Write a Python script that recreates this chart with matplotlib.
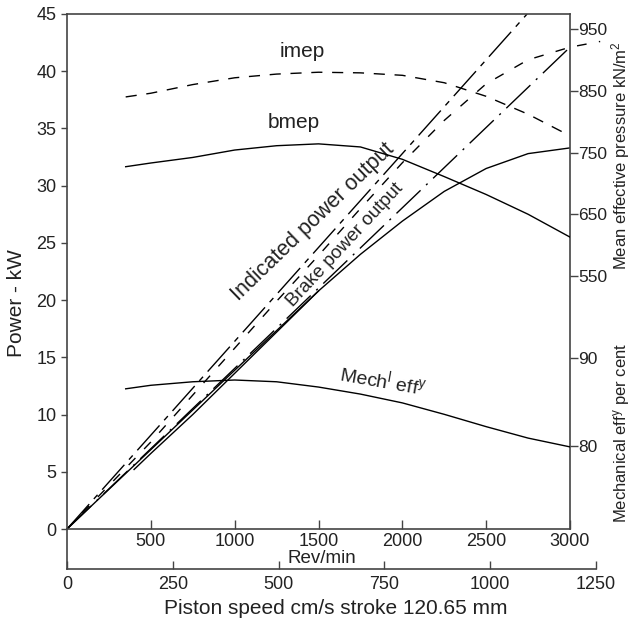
import matplotlib
matplotlib.use("Agg")
import matplotlib.pyplot as plt

plt.rcParams['font.family'] = ['Liberation Sans', 'DejaVu Sans']
plt.rcParams['mathtext.fontset'] = 'custom'
plt.rcParams['mathtext.rm'] = 'Liberation Sans'
plt.rcParams['mathtext.it'] = 'Liberation Sans:italic'
plt.rcParams['mathtext.default'] = 'regular'

# mean effective pressures, kN/m^2
imep_rpm = [350, 500, 750, 1000, 1250, 1500, 1750, 2000, 2250, 2500, 2750, 3000]
imep = [840, 846, 860, 871, 877, 880, 879, 875, 863, 841, 812, 777]
bmep_rpm = [350, 500, 750, 1000, 1250, 1500, 1750, 2000, 2250, 2500, 2750, 3000]
bmep = [727, 733, 742, 754, 761, 764, 759, 739, 711, 682, 650, 613]

# mechanical efficiency, per cent
eff_rpm = [350, 500, 750, 1000, 1250, 1500, 1750, 2000, 2250, 2500, 2750, 3000]
eff = [86.5, 86.9, 87.3, 87.5, 87.3, 86.7, 85.9, 84.9, 83.6, 82.2, 80.9, 79.9]

# power, kW
ind_rpm = [0, 250, 500, 750, 1000, 1250, 1500, 1750, 2000, 2250, 2500, 2750, 3000, 3180]
ind_kw = [0, 3.8, 7.6, 11.7, 15.8, 19.9, 23.9, 28.0, 32.0, 35.7, 38.9, 41.0, 42.1, 42.6]
brake_rpm = [400, 500, 750, 1000, 1250, 1500, 1750, 2000, 2250, 2500, 2750, 3000]
brake_kw = [5.2, 6.6, 10.0, 13.6, 17.2, 20.8, 24.0, 26.9, 29.5, 31.5, 32.8, 33.3]
# straight lines through the origin
ind_line_rpm = [0, 2744]
ind_line_kw = [0, 45]
ind_chord_rpm = [0, 3000]
ind_chord_kw = [0, 42.1]
brake_line_rpm = [0, 1500]
brake_line_kw = [0, 20.8]

rpm_ticks = [500, 1000, 1500, 2000, 2500, 3000]
piston_ticks = [0, 250, 500, 750, 1000, 1250]
power_ticks = list(range(0, 50, 5))
mep_ticks = [550, 650, 750, 850, 950]
eff_ticks = [80, 90]

W, H = 633, 624
def box(x0, y0, x1, y1):
    return [x0 / W, 1 - y1 / H, (x1 - x0) / W, (y1 - y0) / H]

txt = '#222222'
spc = '#444444'

fig = plt.figure(figsize=(6.33, 6.24), dpi=100)

# piston speed scale below
axp = fig.add_axes(box(67, 529, 596, 569))
axp.patch.set_visible(False)
axp.set_xlim(0, 1250)
axp.set_ylim(0, 1)
axp.set_yticks([])
axp.set_xticks(piston_ticks)
for s in ['top', 'right']:
    axp.spines[s].set_visible(False)
for s in ['left', 'bottom']:
    axp.spines[s].set_color(spc)
    axp.spines[s].set_linewidth(1.2)
axp.tick_params(axis='x', direction='in', length=6, width=1, pad=5,
                labelsize=13, colors=spc, labelcolor=txt)

ax = fig.add_axes(box(67, 14, 570, 529))
ax.set_xlim(0, 3000)
ax.set_ylim(0, 45)
ax.set_xticks(rpm_ticks)
ax.set_yticks(power_ticks)
for s in ax.spines.values():
    s.set_color(spc)
    s.set_linewidth(1.2)
ax.tick_params(axis='x', direction='in', length=6.5, width=1, pad=3,
               labelsize=13, colors=spc, labelcolor=txt)
ax.tick_params(axis='y', direction='out', length=4.5, width=1, pad=3,
               labelsize=13, colors=spc, labelcolor=txt)

ax2 = ax.twinx()
ax2.set_ylim(140.3, 974.3)
ax2.set_yticks(mep_ticks)
for s in ax2.spines.values():
    s.set_visible(False)
ax2.tick_params(axis='y', direction='out', length=5.5, width=1, pad=0.5,
                labelsize=12.5, colors=spc, labelcolor=txt)

ax3 = ax.twinx()
ax3.set_ylim(70.57, 129.09)
ax3.set_yticks(eff_ticks)
for s in ax3.spines.values():
    s.set_visible(False)
ax3.tick_params(axis='y', direction='out', length=5.5, width=1, pad=0.5,
                labelsize=12.5, colors=spc, labelcolor=txt)

lw = 1.0
ax2.plot(imep_rpm, imep, color='k', lw=lw, ls=(0, (8, 7)))
ax2.plot(bmep_rpm, bmep, color='k', lw=lw)
ax3.plot(eff_rpm, eff, color='k', lw=lw)

ax.plot(ind_line_rpm, ind_line_kw, color='k', lw=lw, ls=(0, (24, 5, 4, 5)))
ax.plot(ind_chord_rpm, ind_chord_kw, color='k', lw=lw, ls=(0, (24, 5.5, 1.5, 5.5)))
ax.plot(ind_rpm, ind_kw, color='k', lw=lw, ls=(0, (7, 9)), clip_on=False)
ax.plot(brake_line_rpm, brake_line_kw, color='k', lw=lw)
ax.plot(brake_rpm, brake_kw, color='k', lw=lw)

# curve labels
ax.text(1402, 41.7, 'imep', ha='center', va='center', fontsize=15, color=txt)
ax.text(1354, 35.5, 'bmep', ha='center', va='center', fontsize=15, color=txt)
ax.text(1467, 26.8, 'Indicated power output', ha='center', va='center',
        rotation=44, fontsize=15.5, color=txt)
ax.text(1658, 24.8, 'Brake power output', ha='center', va='center',
        rotation=47, fontsize=13.5, color=txt)
ax.text(1885, 13.0, 'Mech$^l$ eff$^y$', ha='center', va='center',
        rotation=-10, fontsize=14, color=txt)

# axis titles
ax.text(-0.101, 0.439, 'Power - kW', transform=ax.transAxes, rotation=90,
        ha='center', va='center', fontsize=15, color=txt)
ax.text(0.507, -0.057, 'Rev/min', transform=ax.transAxes,
        ha='center', va='center', fontsize=13.5, color=txt)
ax.text(0.535, -0.155, 'Piston speed cm/s stroke 120.65 mm', transform=ax.transAxes,
        ha='center', va='center', fontsize=15, color=txt)
ax.text(1.101, 0.726, 'Mean effective pressure kN/m$^2$', transform=ax.transAxes,
        rotation=90, ha='center', va='center', fontsize=12, color=txt)
ax.text(1.103, 0.186, 'Mechanical eff$^y$ per cent', transform=ax.transAxes,
        rotation=90, ha='center', va='center', fontsize=12, color=txt)

fig.savefig('out.png', dpi=100)
